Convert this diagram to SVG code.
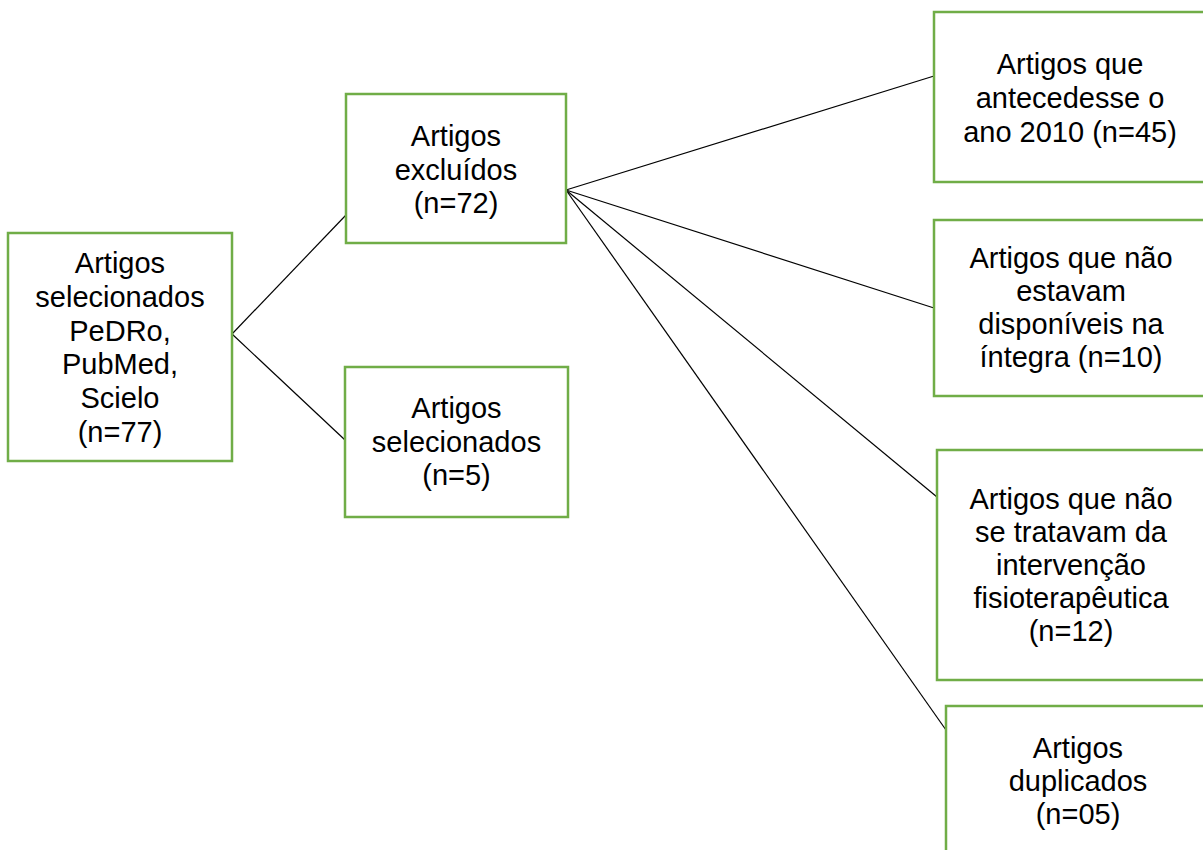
<svg xmlns="http://www.w3.org/2000/svg" width="1203" height="850" viewBox="0 0 1203 850">
<style>
.box{fill:#fff;stroke:#70ad47;stroke-width:2.5}
.t{font-family:"Liberation Sans",Arial,sans-serif;font-size:29px;fill:#000;text-anchor:middle}
.c{stroke:#000;stroke-width:1.2;fill:none}
</style>
<rect width="1203" height="850" fill="#fff"/>
<g id="connectors">
<line class="c" x1="232" y1="334" x2="346" y2="215"/>
<line class="c" x1="232" y1="334" x2="345" y2="440"/>
<line class="c" x1="566" y1="190" x2="934" y2="76"/>
<line class="c" x1="566" y1="190" x2="934" y2="308" stroke-width="1.6"/>
<line class="c" x1="566" y1="190" x2="937" y2="497"/>
<line class="c" x1="566" y1="190" x2="946" y2="730"/>
</g>
<g id="n_total">
<rect class="box" x="8" y="233" width="224" height="228"/>
<text class="t" x="120" y="273">Artigos</text>
<text class="t" x="120" y="307">selecionados</text>
<text class="t" x="120" y="341">PeDRo,</text>
<text class="t" x="120" y="374">PubMed,</text>
<text class="t" x="120" y="408">Scielo</text>
<text class="t" x="120" y="442">(n=77)</text>
</g>
<g id="n_excluidos">
<rect class="box" x="346" y="94" width="220" height="149"/>
<text class="t" x="456" y="146">Artigos</text>
<text class="t" x="456" y="180">excluídos</text>
<text class="t" x="456" y="213">(n=72)</text>
</g>
<g id="n_selecionados">
<rect class="box" x="345" y="367" width="223" height="150"/>
<text class="t" x="456.5" y="418">Artigos</text>
<text class="t" x="456.5" y="452">selecionados</text>
<text class="t" x="456.5" y="485">(n=5)</text>
</g>
<g id="n_2010">
<rect class="box" x="934" y="12" width="272" height="170"/>
<text class="t" x="1070" y="74">Artigos que</text>
<text class="t" x="1070" y="108">antecedesse o</text>
<text class="t" x="1070" y="142">ano 2010 (n=45)</text>
</g>
<g id="n_integra">
<rect class="box" x="934" y="220" width="272" height="176"/>
<text class="t" x="1071" y="268">Artigos que não</text>
<text class="t" x="1071" y="301">estavam</text>
<text class="t" x="1071" y="334">disponíveis na</text>
<text class="t" x="1071" y="367">íntegra (n=10)</text>
</g>
<g id="n_intervencao">
<rect class="box" x="937" y="450" width="270" height="230"/>
<text class="t" x="1071" y="509">Artigos que não</text>
<text class="t" x="1071" y="542">se tratavam da</text>
<text class="t" x="1071" y="575">intervenção</text>
<text class="t" x="1071" y="608">fisioterapêutica</text>
<text class="t" x="1071" y="641">(n=12)</text>
</g>
<g id="n_duplicados">
<rect class="box" x="946" y="706" width="266" height="160"/>
<text class="t" x="1078" y="758">Artigos</text>
<text class="t" x="1078" y="791">duplicados</text>
<text class="t" x="1078" y="824">(n=05)</text>
</g>
</svg>
